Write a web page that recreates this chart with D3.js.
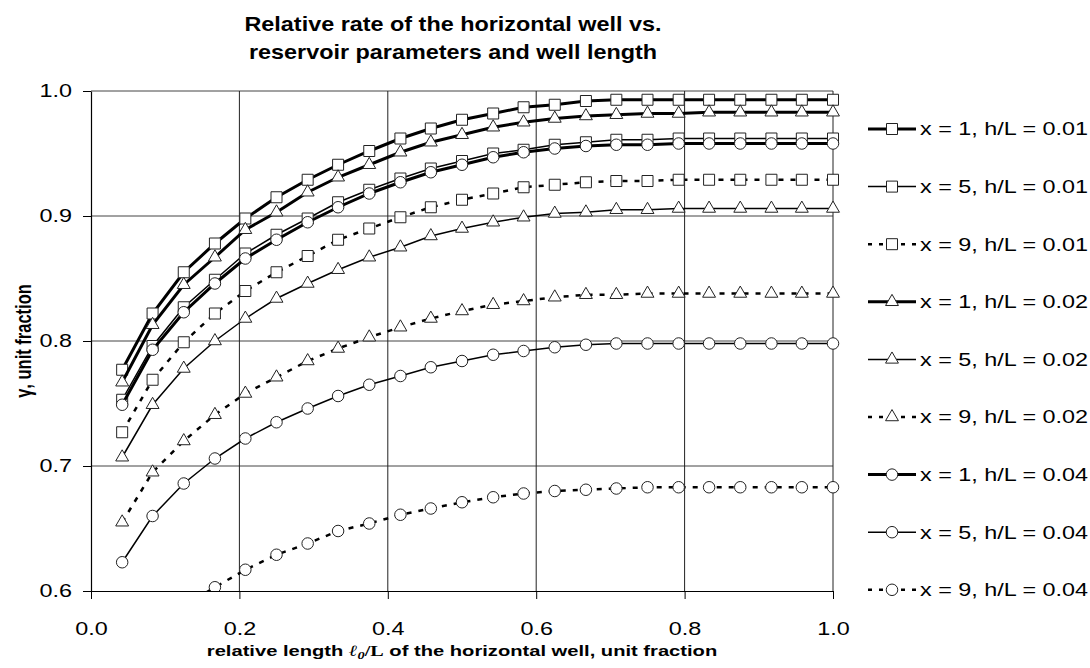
<!DOCTYPE html>
<html>
<head>
<meta charset="utf-8">
<script src="https://cdn.jsdelivr.net/npm/d3@7"></script>
<style>
    body { margin: 0; background: #fff; }
    text { font-family: "Liberation Sans", Arial, sans-serif; fill: #000; }
</style>
</head>
<body>
<div id="chart"></div>
<script>

// relative length l0/L (x axis)
const lengthRatio = [0.042, 0.083, 0.125, 0.167, 0.208, 0.250, 0.292, 0.333, 0.375, 0.417, 0.458, 0.500,
                     0.542, 0.583, 0.625, 0.667, 0.708, 0.750, 0.792, 0.833, 0.875, 0.917, 0.958, 1.000];

// relative rate gamma for each case
const x1_h001 = [0.777, 0.822, 0.855, 0.878, 0.898, 0.915, 0.929, 0.941, 0.952, 0.962, 0.970, 0.977,
                 0.982, 0.987, 0.989, 0.992, 0.993, 0.993, 0.993, 0.993, 0.993, 0.993, 0.993, 0.993];
const x5_h001 = [0.753, 0.796, 0.827, 0.849, 0.870, 0.885, 0.898, 0.911, 0.921, 0.930, 0.938, 0.944,
                 0.950, 0.953, 0.957, 0.959, 0.961, 0.961, 0.962, 0.962, 0.962, 0.962, 0.962, 0.962];
const x9_h001 = [0.727, 0.769, 0.799, 0.822, 0.840, 0.855, 0.868, 0.881, 0.890, 0.899, 0.907, 0.913,
                 0.918, 0.923, 0.925, 0.927, 0.928, 0.928, 0.929, 0.929, 0.929, 0.929, 0.929, 0.929];
const x1_h002 = [0.767, 0.813, 0.845, 0.867, 0.889, 0.903, 0.919, 0.931, 0.941, 0.951, 0.959, 0.965,
                 0.971, 0.975, 0.978, 0.980, 0.981, 0.982, 0.982, 0.983, 0.983, 0.983, 0.983, 0.983];
const x5_h002 = [0.707, 0.749, 0.778, 0.800, 0.818, 0.834, 0.846, 0.857, 0.867, 0.875, 0.884, 0.890,
                 0.895, 0.899, 0.902, 0.903, 0.905, 0.905, 0.906, 0.906, 0.906, 0.906, 0.906, 0.906];
const x9_h002 = [0.655, 0.695, 0.720, 0.741, 0.758, 0.771, 0.784, 0.794, 0.803, 0.811, 0.818, 0.824,
                 0.829, 0.832, 0.835, 0.837, 0.837, 0.838, 0.838, 0.838, 0.838, 0.838, 0.838, 0.838];
const x1_h004 = [0.749, 0.793, 0.823, 0.846, 0.866, 0.881, 0.895, 0.907, 0.918, 0.927, 0.935, 0.941,
                 0.947, 0.951, 0.954, 0.956, 0.957, 0.957, 0.958, 0.958, 0.958, 0.958, 0.958, 0.958];
const x5_h004 = [0.623, 0.660, 0.686, 0.706, 0.722, 0.735, 0.746, 0.756, 0.765, 0.772, 0.779, 0.784,
                 0.789, 0.792, 0.795, 0.797, 0.798, 0.798, 0.798, 0.798, 0.798, 0.798, 0.798, 0.798];
const x9_h004 = [0.520, 0.558, 0.588, 0.603, 0.617, 0.629, 0.638, 0.648, 0.654, 0.661, 0.666, 0.671,
                 0.675, 0.678, 0.680, 0.681, 0.682, 0.683, 0.683, 0.683, 0.683, 0.683, 0.683, 0.683];

const seriesNames = ["x = 1, h/L = 0.01", "x = 5, h/L = 0.01", "x = 9, h/L = 0.01",
                     "x = 1, h/L = 0.02", "x = 5, h/L = 0.02", "x = 9, h/L = 0.02",
                     "x = 1, h/L = 0.04", "x = 5, h/L = 0.04", "x = 9, h/L = 0.04"];
const seriesValues = [x1_h001, x5_h001, x9_h001, x1_h002, x5_h002, x9_h002, x1_h004, x5_h004, x9_h004];

const xTicks = [0.0, 0.2, 0.4, 0.6, 0.8, 1.0];
const yTicks = [0.6, 0.7, 0.8, 0.9, 1.0];

// line / marker look per series (x = 1 thick, x = 5 thin, x = 9 dashed)
const lineStyles = [
    { marker: "square", width: 3, dash: null },
    { marker: "square", width: 1.5, dash: null },
    { marker: "square", width: 2.5, dash: "5,7" },
    { marker: "triangle", width: 3, dash: null },
    { marker: "triangle", width: 1.5, dash: null },
    { marker: "triangle", width: 2.5, dash: "5,7" },
    { marker: "circle", width: 3, dash: null },
    { marker: "circle", width: 1.5, dash: null },
    { marker: "circle", width: 2.5, dash: "5,7" }
];

// the text in the original is wider than plain Arial
const stretch = 1.3;


class LineChart {

    constructor(_parentElement) {
        this.parentElement = _parentElement;
        this.initVis();
    }

    initVis() {
        let vis = this;

        vis.margin = { top: 91, left: 91 };
        vis.width = 742;
        vis.height = 500;

        vis.root = d3.select("#" + vis.parentElement).append("svg")
            .attr("width", 1090)
            .attr("height", 668);

        vis.svg = vis.root.append("g")
            .attr("transform", "translate(" + vis.margin.left + "," + vis.margin.top + ")");

        vis.svg.append("defs").append("clipPath")
            .attr("id", "plot-clip")
            .append("rect")
            .attr("x", -8).attr("y", -8)
            .attr("width", vis.width + 16)
            .attr("height", vis.height + 8);

        vis.x = d3.scaleLinear().domain([0, 1]).range([0, vis.width]);
        vis.y = d3.scaleLinear().domain([0.6, 1.0]).range([vis.height, 0]);

        vis.symbols = {
            square: d3.symbol().type(d3.symbolSquare).size(121),
            triangle: d3.symbol().type(d3.symbolTriangle).size(72),
            circle: d3.symbol().type(d3.symbolCircle).size(104)
        };

        vis.line = d3.line()
            .x(d => vis.x(d.x))
            .y(d => vis.y(d.y));

        vis.wrangleData();
    }

    wrangleData() {
        let vis = this;

        vis.displayData = seriesValues.map((vals, i) => ({
            name: seriesNames[i],
            style: lineStyles[i],
            values: vals.map((v, j) => ({ x: lengthRatio[j], y: v }))
        }));

        vis.updateVis();
    }

    updateVis() {
        let vis = this;

        // grid
        vis.svg.append("g").attr("class", "grid")
            .selectAll("line.h")
            .data(yTicks.slice(1))
            .join("line")
            .attr("x1", 0).attr("x2", vis.width)
            .attr("y1", d => vis.y(d)).attr("y2", d => vis.y(d))
            .attr("stroke", "#444").attr("stroke-width", 1);

        vis.svg.append("g").attr("class", "grid")
            .selectAll("line.v")
            .data(xTicks.slice(1))
            .join("line")
            .attr("y1", 0).attr("y2", vis.height)
            .attr("x1", d => vis.x(d)).attr("x2", d => vis.x(d))
            .attr("stroke", "#222").attr("stroke-width", 1);

        // axes
        vis.xAxis = d3.axisBottom(vis.x).tickValues(xTicks).tickFormat(d3.format(".1f"))
            .tickSize(8).tickSizeOuter(0);
        vis.yAxis = d3.axisLeft(vis.y).tickValues(yTicks).tickFormat(d3.format(".1f"))
            .tickSize(8).tickSizeOuter(0);

        let gx = vis.svg.append("g")
            .attr("class", "x-axis axis")
            .attr("transform", "translate(0," + vis.height + ")")
            .call(vis.xAxis);
        let gy = vis.svg.append("g")
            .attr("class", "y-axis axis")
            .call(vis.yAxis);

        [gx, gy].forEach(g => {
            g.select(".domain").attr("stroke", "#000").attr("stroke-width", 1.2);
            g.selectAll(".tick line").attr("stroke", "#000");
            g.selectAll(".tick text")
                .attr("font-family", "Liberation Sans, Arial, sans-serif")
                .attr("font-size", 18)
                .attr("fill", "#000");
        });
        gx.selectAll(".tick text").attr("y", 31)
            .attr("transform", "scale(" + stretch + ",1)");
        gy.selectAll(".tick text").attr("x", -19 / stretch)
            .attr("transform", "scale(" + stretch + ",1)");

        // series
        let plot = vis.svg.append("g").attr("clip-path", "url(#plot-clip)");

        vis.displayData.forEach(s => {
            let g = plot.append("g").attr("class", "series");

            g.append("path")
                .datum(s.values)
                .attr("fill", "none")
                .attr("stroke", "#000")
                .attr("stroke-width", s.style.width)
                .attr("stroke-dasharray", s.style.dash)
                .attr("d", vis.line);

            g.selectAll("path.marker")
                .data(s.values.filter(d => d.y >= 0.6))
                .join("path")
                .attr("class", "marker")
                .attr("transform", d => "translate(" + vis.x(d.x) + "," + vis.y(d.y) + ")")
                .attr("d", vis.symbols[s.style.marker])
                .attr("fill", "#fff")
                .attr("stroke", "#222")
                .attr("stroke-width", 1);
        });

        // legend
        let legend = vis.root.append("g").attr("class", "legend");
        vis.displayData.forEach((s, i) => {
            let ly = 129 + i * 57.6;
            let row = legend.append("g").attr("transform", "translate(868," + ly + ")");
            row.append("line")
                .attr("x1", 0).attr("x2", 48)
                .attr("stroke", "#000")
                .attr("stroke-width", s.style.width)
                .attr("stroke-dasharray", s.style.dash ? "4,7" : null);
            row.append("path")
                .attr("transform", "translate(24,0)")
                .attr("d", vis.symbols[s.style.marker])
                .attr("fill", "#fff")
                .attr("stroke", "#222");
            row.append("text")
                .attr("transform", "translate(52,0) scale(" + stretch + ",1)")
                .attr("dy", "0.35em")
                .attr("font-size", 18)
                .text(s.name);
        });

        // titles
        let title = vis.root.append("g")
            .attr("transform", "translate(453,0) scale(1.17,1)");
        title.append("text")
            .attr("y", 31)
            .attr("text-anchor", "middle")
            .attr("font-size", 20)
            .attr("font-weight", "bold")
            .text("Relative rate of the horizontal well vs.");
        title.append("text")
            .attr("y", 59)
            .attr("text-anchor", "middle")
            .attr("font-size", 20)
            .attr("font-weight", "bold")
            .text("reservoir parameters and well length");

        let xt = vis.root.append("text")
            .attr("transform", "translate(462,656) scale(" + stretch + ",1)")
            .attr("text-anchor", "middle")
            .attr("font-size", 15.5)
            .attr("font-weight", "bold");
        xt.append("tspan").text("relative length ");
        xt.append("tspan")
            .attr("font-family", "Liberation Serif, Times New Roman, serif")
            .attr("font-style", "italic")
            .text("\u2113");
        xt.append("tspan")
            .attr("font-family", "Liberation Serif, Times New Roman, serif")
            .attr("font-style", "italic")
            .attr("font-size", 11)
            .attr("dy", 3)
            .text("0");
        xt.append("tspan")
            .attr("font-family", "Liberation Serif, Times New Roman, serif")
            .attr("dy", -3)
            .text("/L");
        xt.append("tspan").text(" of the horizontal well, unit fraction");

        vis.root.append("text")
            .attr("transform", "translate(31,341) rotate(-90) scale(1," + stretch + ")")
            .attr("text-anchor", "middle")
            .attr("font-size", 16.5)
            .attr("font-weight", "bold")
            .text("\u03b3, unit fraction");
    }
}

let chart = new LineChart("chart");

</script>
</body>
</html>
